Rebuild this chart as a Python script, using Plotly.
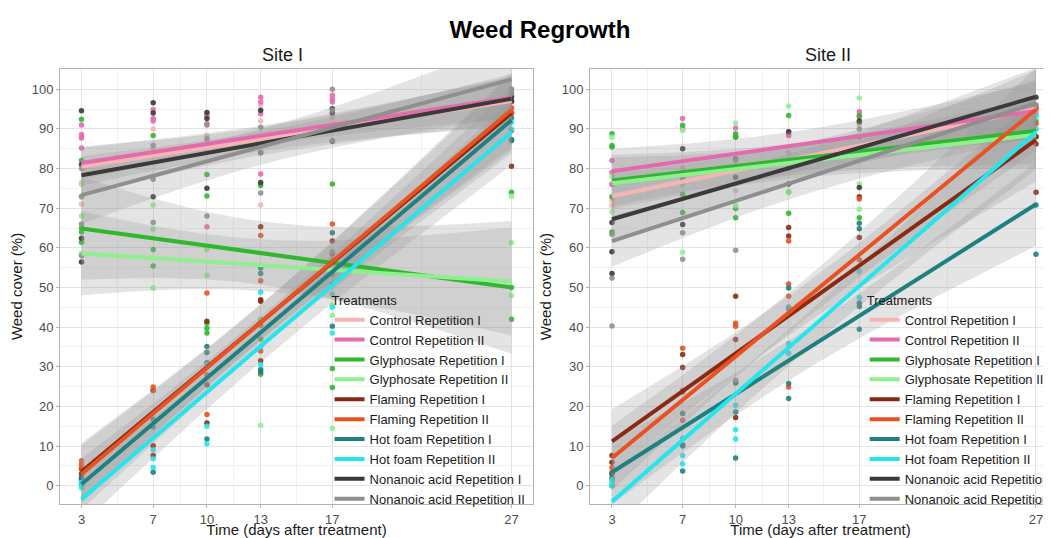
import numpy as np
import plotly.graph_objects as go
from plotly.subplots import make_subplots

days = [3, 7, 10, 13, 17, 27]
x_tick_labels = ["3", "7", "10", "13", "17", "27"]
x_minor = [5, 8.5, 11.5, 15, 22]
y_ticks = [0, 10, 20, 30, 40, 50, 60, 70, 80, 90, 100]
y_minor = [5, 15, 25, 35, 45, 55, 65, 75, 85, 95]

treatments = [
    "Control Repetition I", "Control Repetition II",
    "Glyphosate Repetition I", "Glyphosate Repetition II",
    "Flaming Repetition I", "Flaming Repetition II",
    "Hot foam Repetition I", "Hot foam Repetition II",
    "Nonanoic acid Repetition I", "Nonanoic acid Repetition II",
]
colors = ["#F6B4B4", "#E46AAE", "#2DB82D", "#8FEF8F", "#8B2A12",
          "#EA5020", "#1E8080", "#22E5EE", "#3A3A3A", "#8F8F8F"]

# ---- Site I observed points (one list per day) ----
s1_control_1 = [[88, 71, 76], [90, 85], [88.3, 87], [70.8, 96, 92], [93, 90.5], [99, 97, 95]]
s1_control_2 = [[91, 88.6, 85.2, 87.7], [94.9, 92.6, 92], [93.4, 91.3, 65.3], [98, 96.8, 93.8, 78.6], [98.5, 96.8, 97.5], [100, 96.8, 98.5]]
s1_glyph_1 = [[92.4, 82, 65, 64, 61.4], [88.3, 59.6, 55.4], [78.5, 73.1, 41, 39.7, 38.5], [75.7, 41.8, 37, 28.1], [76.1, 29.6, 24.8], [74, 50, 42]]
s1_glyph_2 = [[76.5, 72.7, 68, 58.6], [70.8, 64.7, 49.9], [59.6, 53.1, 60], [42, 15.2], [45.6, 43, 14.5], [61.3, 73, 48]]
s1_flaming_1 = [[4.2, 3.0, 2.0], [10.1, 7.6, 24], [41.5, 15.8, 25.5], [65.3, 46.5, 46.9, 31.5], [61.7, 58.5], [80.6, 94]]
s1_flaming_2 = [[5.3, 6.3, 4.5], [24.9, 24.1], [48.6, 18.0, 28], [63.1, 51.7, 34.0, 40.5], [66.0, 57], [95.3, 89.6, 94]]
s1_hotfoam_1 = [[0.4, 1.5, 2.0], [16.7, 14.8, 3.4], [35.1, 33.6, 31.0, 11.8], [54.9, 53.5, 29.3, 28.7], [63.8, 53.3, 50.8, 40.2], [92.8, 87.3, 87]]
s1_hotfoam_2 = [[0, 0.8, -0.5], [6.8, 4.6, 9], [15.0, 10.6, 30.5], [48.8, 35, 30.5], [48.3, 38.5, 45], [91.7, 90]]
s1_nonanoic_1 = [[94.6, 81, 62.4, 56.4], [96.6, 94.0, 72.9], [94.1, 92.6, 75], [94.7, 76.5, 84], [95.1, 94, 86.9], [97, 98]]
s1_nonanoic_2 = [[80, 66, 58, 73], [85.8, 83.3, 77.3, 66.4], [91, 87.5, 68.0], [90.4, 84.1, 73.8], [100, 94.7, 87.1, 59], [100, 99]]

# ---- Site II observed points ----
s2_control_1 = [[76.2, 70.6, 72], [80, 78], [74.4, 80], [88.3, 84], [91, 88], [95, 96]]
s2_control_2 = [[82, 79, 76], [92.6, 90], [90.2, 88], [89.2, 88.3], [94.3, 93], [95, 94]]
s2_glyph_1 = [[88.8, 85.8, 85.4, 72.9, 64.0], [90.9, 73.5, 68.9], [88.8, 87.9, 69.9, 67.6], [93.4, 68.7, 74.1], [93.4, 91.7, 67.6], [92, 88]]
s2_glyph_2 = [[87.9, 69.1, 78], [89.6, 58.9, 76], [91.5, 70.6], [95.8, 74.1], [97.8, 76.1, 69.7], [90, 93]]
s2_flaming_1 = [[7.6, 5.9, 3], [33.1, 29.8, 23.7, 10.3], [47.8, 36.9, 17.2], [65.1, 63.0, 45], [72.9, 62.6], [86.2, 74.0, 88]]
s2_flaming_2 = [[4.6, 3.5, 2], [34.7, 16.5, 24], [41.0, 40.2, 26], [61.7, 50.9, 47.8, 24.9], [72.3, 57], [95.3, 91.3]]
s2_hotfoam_1 = [[3.0, 1.7, 0], [18.2, 3.7, 10], [26.0, 18.6, 7.0], [49.9, 25.8, 22.0], [66.2, 64.8, 46.1, 45.2, 39.5], [70.8, 58.4]]
s2_hotfoam_2 = [[0.8, 0, 1.5], [7.6, 5.5, 12], [20.3, 14.1, 11.8], [35.9, 33.4, 45], [54.1, 47.5], [93.4, 90]]
s2_nonanoic_1 = [[66.4, 59.0, 53.5], [85, 65.9, 77], [82.4, 77.8], [89.3, 76.1], [75.2, 92], [98]]
s2_nonanoic_2 = [[63.4, 52.4, 40.3], [63.8, 57.1, 77.3], [59.4, 26.6, 82], [44.5, 80], [88, 90], [96]]

# ---- fitted linear trends (value at day 3 and day 27) and CI half-width at mean day ----
s1_fit_start = [80.5, 81.4, 64.9, 58.6, 3.5, 2.9, 0.4, -3.4, 78.3, 73.3]
s1_fit_end = [97.0, 97.9, 50.0, 51.5, 94.0, 94.8, 92.2, 89.2, 97.6, 102.5]
s1_band_hw = [3.0, 2.5, 8.0, 6.5, 4.5, 4.5, 4.0, 4.0, 3.0, 4.5]

s2_fit_start = [73.0, 79.3, 77.0, 76.3, 11.2, 7.0, 3.4, -4.0, 67.2, 61.7]
s2_fit_end = [95.0, 94.5, 89.5, 88.5, 87.2, 94.9, 71.0, 89.2, 98.1, 96.5]
s2_band_hw = [3.5, 3.5, 4.0, 4.0, 5.0, 5.0, 5.0, 4.5, 3.5, 4.0]

site1_points = [s1_control_1, s1_control_2, s1_glyph_1, s1_glyph_2, s1_flaming_1,
                s1_flaming_2, s1_hotfoam_1, s1_hotfoam_2, s1_nonanoic_1, s1_nonanoic_2]
site2_points = [s2_control_1, s2_control_2, s2_glyph_1, s2_glyph_2, s2_flaming_1,
                s2_flaming_2, s2_hotfoam_1, s2_hotfoam_2, s2_nonanoic_1, s2_nonanoic_2]

FONT = "Liberation Sans, Arial, sans-serif"
fig = make_subplots(rows=1, cols=2, subplot_titles=("Site I", "Site II"))

d = np.array(days, dtype=float)
xbar = d.mean()
sxx = ((d - xbar) ** 2).sum()
xs = np.linspace(days[0], days[-1], 60)
band_fill = "rgba(150,150,150,0.26)"

sites = [
    (site1_points, s1_fit_start, s1_fit_end, s1_band_hw, "legend"),
    (site2_points, s2_fit_start, s2_fit_end, s2_band_hw, "legend2"),
]

for col, (pts, fs, fe, hw, leg) in enumerate(sites, start=1):
    # points
    for i, name in enumerate(treatments):
        px, py = [], []
        for day, vals in zip(days, pts[i]):
            px += [day] * len(vals)
            py += vals
        fig.add_trace(go.Scatter(x=px, y=py, mode="markers",
                                 marker=dict(color=colors[i], size=5.5, opacity=0.9),
                                 showlegend=False, hoverinfo="skip"), row=1, col=col)
    # confidence bands
    for i, name in enumerate(treatments):
        center = fs[i] + (fe[i] - fs[i]) * (xs - days[0]) / (days[-1] - days[0])
        h = hw[i] * np.sqrt(1 + len(days) * (xs - xbar) ** 2 / sxx)
        bx = np.concatenate([xs, xs[::-1]])
        by = np.concatenate([center + h, (center - h)[::-1]])
        fig.add_trace(go.Scatter(x=bx, y=by, fill="toself", fillcolor=band_fill,
                                 line=dict(width=0), mode="lines",
                                 showlegend=False, hoverinfo="skip"), row=1, col=col)
    # fitted lines
    for i, name in enumerate(treatments):
        fig.add_trace(go.Scatter(x=[days[0], days[-1]], y=[fs[i], fe[i]], mode="lines",
                                 line=dict(color=colors[i], width=4),
                                 name=name, legend=leg, showlegend=True),
                      row=1, col=col)

axis_common = dict(showline=True, mirror=True, linecolor="#b3b3b3", linewidth=1,
                   ticks="outside", ticklen=3, tickcolor="#b3b3b3",
                   showgrid=True, gridcolor="#e3e3e3", gridwidth=1, zeroline=False,
                   tickfont=dict(family=FONT, size=13, color="#4d4d4d"))
xcommon = dict(axis_common, tickmode="array", tickvals=days, ticktext=x_tick_labels,
               ticklabeloverflow="allow",
               minor=dict(tickmode="array", tickvals=x_minor, showgrid=True,
                          gridcolor="#f1f1f1", gridwidth=1, ticklen=0),
               title=dict(text="Time (days after treatment)", standoff=0,
                          font=dict(family=FONT, size=15, color="#1a1a1a")))
ycommon = dict(axis_common, tickmode="array", tickvals=y_ticks, range=[-4.6, 105.1],
               minor=dict(tickmode="array", tickvals=y_minor, showgrid=True,
                          gridcolor="#f1f1f1", gridwidth=1, ticklen=0),
               title=dict(text="Weed cover (%)", standoff=6,
                          font=dict(family=FONT, size=15, color="#1a1a1a")))

fig.update_layout(
    xaxis=dict(xcommon, domain=[0, 0.4773], range=[1.8, 28.2]),
    xaxis2=dict(xcommon, domain=[0.5348, 1.0], range=[1.755, 27.85]),
    yaxis=dict(ycommon),
    yaxis2=dict(ycommon),
)

legend_common = dict(xanchor="left", yanchor="top", bgcolor="rgba(0,0,0,0)",
                     font=dict(family=FONT, size=13, color="#1a1a1a"),
                     title=dict(text="Treatments", font=dict(family=FONT, size=13, color="#1a1a1a")),
                     tracegroupgap=0, itemwidth=30)

fig.update_layout(
    width=1043, height=530,
    margin=dict(l=52, r=0, t=61, b=34, autoexpand=False),
    paper_bgcolor="white", plot_bgcolor="white",
    title=dict(text="<b>Weed Regrowth</b>", x=0.510, xanchor="center",
               y=1 - 22 / 530, yanchor="middle",
               font=dict(family=FONT, size=24, color="black")),
    legend=dict(legend_common, x=0.272, y=0.497),
    legend2=dict(legend_common, x=0.812, y=0.497),
    font=dict(family=FONT),
)
for ann in fig.layout.annotations:
    ann.font = dict(family=FONT, size=18, color="#1a1a1a")
    ann.yshift = 2

fig.write_html("out.html")
